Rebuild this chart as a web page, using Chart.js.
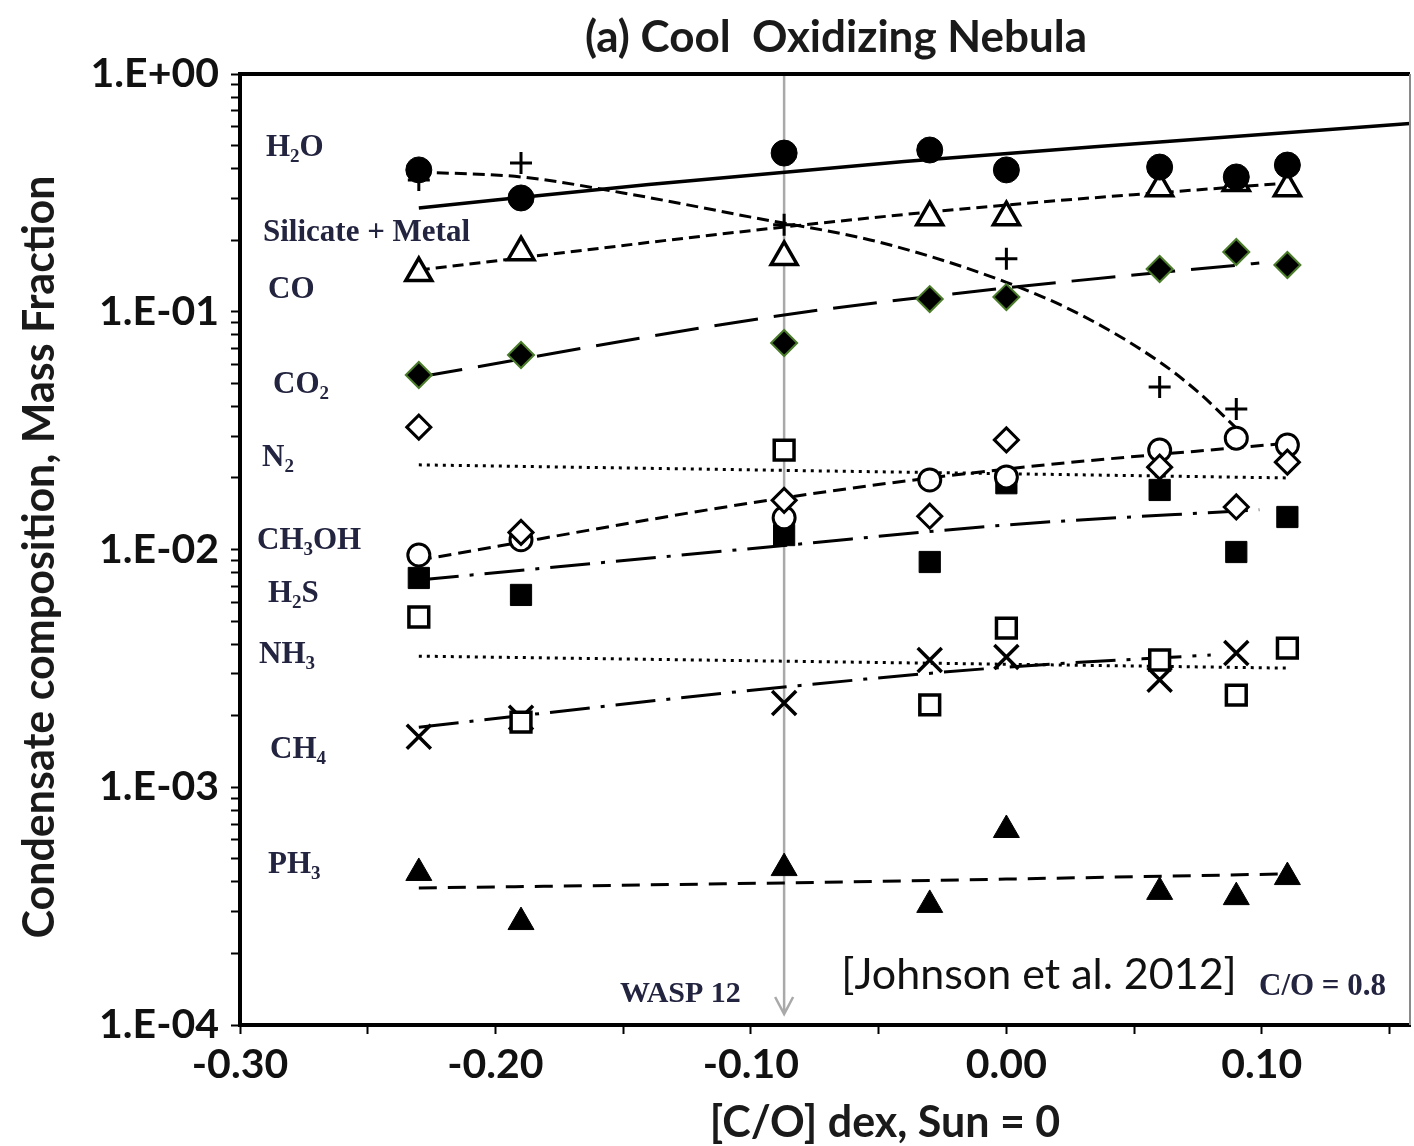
<!DOCTYPE html>
<html>
<head>
<meta charset="utf-8">
<title>(a) Cool Oxidizing Nebula</title>
<script src="https://cdn.jsdelivr.net/npm/chart.js@4.4.1/dist/chart.umd.min.js"></script>
<style>
	html, body { margin: 0; padding: 0; background: #fff; }
	#graph-box { width: 1414px; height: 1146px; }
</style>
</head>
<body>
<div id="graph-box"><canvas id="nebula-graph" width="1414" height="1146"></canvas></div>
<script>
// [C/O] dex of the model runs (Sun = 0)
var co_dex = [-0.23, -0.19, -0.087, -0.03, 0.00, 0.06, 0.09, 0.11];
var wasp12_co = -0.087;

// condensate mass fractions, one array per marker type
var filled_circle   = [0.395, 0.301, 0.465, 0.479, 0.395, 0.406, 0.369, 0.414];
var open_triangle   = [0.1455, 0.178, 0.170, 0.250, 0.250, 0.331, 0.348, 0.331];
var filled_diamond  = [0.0542, 0.0658, 0.0739, 0.1131, 0.1153, 0.1513, 0.1783, 0.1573];
var open_diamond    = [0.0327, 0.0118, 0.0161, 0.0138, 0.0289, 0.0222, 0.0151, 0.0233];
var open_circle     = [0.00948, 0.0110, 0.0136, 0.0196, 0.0202, 0.0262, 0.0294, 0.0275];
var filled_square   = [0.00759, 0.00644, 0.0115, 0.00886, 0.0190, 0.0178, 0.00976, 0.0137];
var open_square     = [0.0052, 0.00188, 0.0262, 0.00222, 0.00467, 0.00343, 0.00244, 0.00385];
var filled_triangle = [0.000436, 0.000271, 0.000457, 0.00032, 0.000661, 0.000363, 0.000345, 0.000419];

var plus_x  = [-0.23, -0.19, -0.087, 0.00, 0.06, 0.09];
var plus_y  = [0.358, 0.422, 0.232, 0.167, 0.0483, 0.039];
var cross_x = [-0.23, -0.19, -0.087, -0.03, 0.00, 0.06, 0.09];
var cross_y = [0.00163, 0.00196, 0.00226, 0.00343, 0.00353, 0.00283, 0.00367];

// trend curves
var trend_circle_x   = [-0.23, -0.14, -0.04, 0.06, 0.158];
var trend_circle_y   = [0.273, 0.343, 0.429, 0.518, 0.619];
var trend_plus_x     = [-0.23, -0.19, -0.15, -0.10, -0.05, 0.00, 0.03, 0.06, 0.075, 0.09];
var trend_plus_y     = [0.387, 0.369, 0.316, 0.250, 0.1965, 0.133, 0.0960, 0.0615, 0.0460, 0.0324];
var trend_triangle_x = [-0.23, -0.087, 0.00, 0.11];
var trend_triangle_y = [0.1498, 0.2273, 0.2812, 0.3479];
var trend_diamond_x  = [-0.23, -0.087, 0.00, 0.099];
var trend_diamond_y  = [0.0532, 0.0969, 0.1259, 0.1603];
var trend_ocircle_x  = [-0.23, -0.087, 0.00, 0.11];
var trend_ocircle_y  = [0.00903, 0.0165, 0.0218, 0.0280];
var trend_square_x   = [-0.23, -0.087, 0.00, 0.099];
var trend_square_y   = [0.00744, 0.0104, 0.01268, 0.0147];
var trend_cross_x    = [-0.23, -0.087, 0.00, 0.08];
var trend_cross_y    = [0.00179, 0.00264, 0.00320, 0.0036];
var trend_ph3_x      = [-0.23, -0.087, 0.00, 0.11];
var trend_ph3_y      = [0.000377, 0.000396, 0.000411, 0.000432];
var n2_x  = [-0.23, 0.11];
var n2_y  = [0.0227, 0.0200];
var nh3_x = [-0.23, 0.11];
var nh3_y = [0.00356, 0.00317];

// axes
var x_ticks = [-0.30, -0.25, -0.20, -0.15, -0.10, -0.05, 0.00, 0.05, 0.10, 0.15];
var x_tick_labels = ['-0.30', '', '-0.20', '', '-0.10', '', '0.00', '', '0.10', ''];
var y_decades = [1e-4, 1e-3, 1e-2, 1e-1, 1];
var y_tick_labels = ['1.E-04', '1.E-03', '1.E-02', '1.E-01', '1.E+00'];

var species = ['H_2O', 'Silicate + Metal', 'CO', 'CO_2', 'N_2', 'CH_3OH', 'H_2S', 'NH_3', 'CH_4', 'PH_3'];

function pts(xs, ys)
{
	var out = [];
	for (var i = 0; i < xs.length; i++)
		out.push({x: xs[i], y: ys[i]});
	return out;
}

function markers(label, xs, ys, style, radius, fill, edge, edgeWidth)
{
	return {
		label: label,
		data: pts(xs, ys),
		pointStyle: style,
		pointRadius: radius,
		pointBackgroundColor: fill,
		pointBorderColor: edge,
		pointBorderWidth: edgeWidth,
		showLine: false,
		order: 1
	};
}

function trend(label, xs, ys, dash, width)
{
	return {
		label: label,
		data: pts(xs, ys),
		showLine: true,
		pointRadius: 0,
		borderColor: '#000',
		borderWidth: width,
		borderDash: dash,
		fill: false,
		cubicInterpolationMode: 'monotone',
		order: 2
	};
}

// minor ticks 2..9 inside each decade
var y_ticks = [];
for (var d = 0; d < y_decades.length; d++) {
	y_ticks.push(y_decades[d]);
	if (d < y_decades.length - 1)
		for (var m = 2; m <= 9; m++) y_ticks.push(m * y_decades[d]);
}

function drawChem(ctx, txt, x, y, size, color)
{
	// '_' puts the next character in subscript
	var cx = x;
	ctx.fillStyle = color;
	ctx.textBaseline = 'middle';
	ctx.textAlign = 'left';
	var run = '';
	function flush() {
		if (!run) return;
		ctx.font = 'bold ' + size + 'px "Liberation Serif"';
		ctx.fillText(run, cx, y);
		cx += ctx.measureText(run).width;
		run = '';
	}
	for (var i = 0; i < txt.length; i++) {
		if (txt[i] == '_') {
			flush();
			i++;
			ctx.font = 'bold ' + Math.round(size * 0.62) + 'px "Liberation Serif"';
			ctx.fillText(txt[i], cx, y + size * 0.3);
			cx += ctx.measureText(txt[i]).width;
		} else {
			run += txt[i];
		}
	}
	flush();
}

var decorations = {
	id: 'decorations',
	beforeDatasetsDraw: function(chart) {
		var ctx = chart.ctx;
		var area = chart.chartArea;
		var px = chart.scales.x.getPixelForValue(wasp12_co);
		var tip = area.bottom - 11;
		ctx.save();
		ctx.strokeStyle = '#a9a9a9';
		ctx.lineWidth = 2.5;
		ctx.beginPath();
		ctx.moveTo(px, area.top);
		ctx.lineTo(px, tip);
		ctx.moveTo(px - 9, tip - 17);
		ctx.lineTo(px, tip);
		ctx.lineTo(px + 9, tip - 17);
		ctx.stroke();
		ctx.restore();
	},
	afterDraw: function(chart) {
		var ctx = chart.ctx;
		var area = chart.chartArea;
		ctx.save();

		// frame top and right
		ctx.strokeStyle = '#000';
		ctx.lineWidth = 4;
		ctx.beginPath();
		ctx.moveTo(area.left - 2, area.top);
		ctx.lineTo(area.right, area.top);
		ctx.stroke();
		ctx.strokeStyle = '#8a8a8a';
		ctx.lineWidth = 2;
		ctx.beginPath();
		ctx.moveTo(area.right, area.top);
		ctx.lineTo(area.right, area.bottom);
		ctx.stroke();

		// titles
		ctx.fillStyle = '#1a1a1a';
		ctx.textAlign = 'center';
		ctx.textBaseline = 'middle';
		ctx.font = 'bold 44px Lato';
		ctx.fillText('(a) Cool  Oxidizing Nebula', 836, 38);
		ctx.font = 'bold 43px Lato';
		ctx.fillText('[C/O] dex, Sun = 0', 885, 1123);
		ctx.save();
		ctx.translate(40, 557);
		ctx.rotate(-Math.PI / 2);
		ctx.font = 'bold 43px Lato';
		ctx.fillText('Condensate composition, Mass Fraction', 0, 0);
		ctx.restore();

		// species names down the left side
		var rows = [[266, 148], [263, 233], [268, 290], [273, 385], [262, 458],
		            [257, 541], [268, 594], [259, 655], [270, 750], [268, 865]];
		for (var i = 0; i < species.length; i++)
			drawChem(ctx, species[i], rows[i][0], rows[i][1], 31, '#23243f');

		drawChem(ctx, 'WASP 12', 620, 994, 30, '#23243f');
		drawChem(ctx, 'C/O = 0.8', 1259, 987, 31, '#23243f');

		ctx.fillStyle = '#111';
		ctx.textAlign = 'center';
		ctx.font = '43px Lato';
		ctx.fillText('[Johnson et al. 2012]', 1039, 975);
		ctx.restore();
	}
};

var datasets = [
	markers('filled circle', co_dex, filled_circle, 'circle', 13, '#000', '#000', 1),
	markers('plus', plus_x, plus_y, 'cross', 11, '#000', '#000', 3),
	markers('open triangle', co_dex, open_triangle, 'triangle', 15, '#fff', '#000', 3.5),
	markers('filled diamond', co_dex, filled_diamond, 'rectRot', 13, '#000', '#4a7c2a', 2),
	markers('open diamond', co_dex, open_diamond, 'rectRot', 12, '#fff', '#000', 3),
	markers('open circle', co_dex, open_circle, 'circle', 11, '#fff', '#000', 3),
	markers('filled square', co_dex, filled_square, 'rect', 15, '#000', '#000', 1),
	markers('open square', co_dex, open_square, 'rect', 14, '#fff', '#000', 3.5),
	markers('cross', cross_x, cross_y, 'crossRot', 17, '#000', '#000', 3.5),
	markers('filled triangle', co_dex, filled_triangle, 'triangle', 15, '#000', '#000', 1),
	trend('filled circle fit', trend_circle_x, trend_circle_y, [], 3.5),
	trend('plus fit', trend_plus_x, trend_plus_y, [12, 6], 3),
	trend('open triangle fit', trend_triangle_x, trend_triangle_y, [11, 6], 3),
	trend('filled diamond fit', trend_diamond_x, trend_diamond_y, [44, 16], 3),
	trend('open circle fit', trend_ocircle_x, trend_ocircle_y, [13, 7], 3),
	trend('filled square fit', trend_square_x, trend_square_y, [40, 11, 4, 11], 3),
	trend('cross fit', trend_cross_x, trend_cross_y, [40, 11, 4, 11], 3),
	trend('PH3 fit', trend_ph3_x, trend_ph3_y, [18, 11], 3),
	trend('N2', n2_x, n2_y, [3, 5], 3),
	trend('NH3', nh3_x, nh3_y, [3, 5], 3)
];

var ctx = document.getElementById('nebula-graph').getContext('2d');

var nebulaChart = new Chart(ctx, {
	type: 'scatter',
	data: { datasets: datasets },
	plugins: [decorations],
	options: {
		responsive: false,
		animation: false,
		events: [],
		layout: { autoPadding: false, padding: { top: 74, right: 4, left: 0, bottom: 0 } },
		plugins: {
			legend: { display: false },
			tooltip: { enabled: false }
		},
		scales: {
			x: {
				type: 'linear',
				min: -0.30,
				max: 0.158,
				afterFit: function(scale) {
					scale.height = 121;
					scale.paddingLeft = 0;
					scale.paddingRight = 0;
				},
				afterBuildTicks: function(scale) {
					scale.ticks = x_ticks.map(function(v) { return {value: v}; });
				},
				ticks: {
					autoSkip: false,
					maxRotation: 0,
					padding: 6,
					color: '#111',
					font: { family: 'Lato', weight: 'bold', size: 41 },
					callback: function(value, index) { return x_tick_labels[index]; }
				},
				grid: { drawOnChartArea: false, tickLength: 9, tickWidth: 2, tickColor: '#000' },
				border: { color: '#000', width: 4 }
			},
			y: {
				type: 'logarithmic',
				min: 1e-4,
				max: 1,
				afterFit: function(scale) {
					scale.width = 240;
					scale.paddingTop = 0;
					scale.paddingBottom = 0;
				},
				afterBuildTicks: function(scale) {
					scale.ticks = y_ticks.map(function(v) { return {value: v}; });
				},
				ticks: {
					autoSkip: false,
					padding: 12,
					color: '#111',
					font: { family: 'Lato', weight: 'bold', size: 41 },
					callback: function(value) {
						for (var i = 0; i < y_decades.length; i++)
							if (Math.abs(value - y_decades[i]) < y_decades[i] * 1e-6) return y_tick_labels[i];
						return '';
					}
				},
				grid: { drawOnChartArea: false, tickLength: 9, tickWidth: 2, tickColor: '#000' },
				border: { color: '#000', width: 4 }
			}
		}
	}
});
</script>
</body>
</html>
